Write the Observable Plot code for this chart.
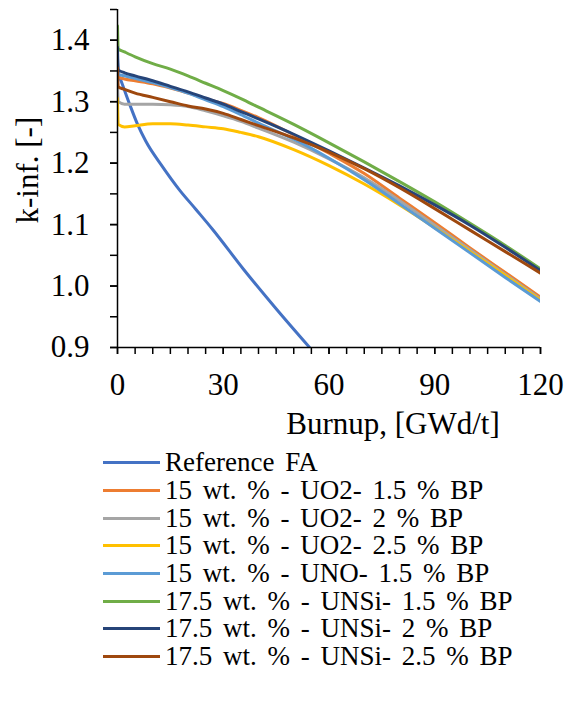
<!DOCTYPE html>
<html>
<head>
<meta charset="utf-8">
<script src="https://cdn.jsdelivr.net/npm/d3@7"></script>
<script src="https://cdn.jsdelivr.net/npm/@observablehq/plot@0.6"></script>
<style>
  html, body { margin: 0; padding: 0; background: #fff; }
  body { width: 566px; height: 711px; overflow: hidden; font-family: "Liberation Serif", "Times New Roman", serif; }
  #legend { margin-left: 103px; margin-top: 4px; }
  .row { display: flex; align-items: center; height: 27.7px; font-size: 27px; line-height: 27px; word-spacing: 4px; color: #000; white-space: nowrap; }
  .row span { display: inline-block; }
  .sw { width: 57px; height: 3px; margin-right: 5px; flex: none; }
</style>
</head>
<body>
<div id="chart"></div>
<div id="legend"></div>
<script>
// ---- data ----
const seriesNames = [
  "Reference FA",
  "15 wt. % - UO2- 1.5 % BP",
  "15 wt. % - UO2- 2 % BP",
  "15 wt. % - UO2- 2.5 % BP",
  "15 wt. % - UNO- 1.5 % BP",
  "17.5 wt. % - UNSi- 1.5 % BP",
  "17.5 wt. % - UNSi- 2 % BP",
  "17.5 wt. % - UNSi- 2.5 % BP"
];
const seriesColors = ["#4472C4", "#ED7D31", "#A5A5A5", "#FFC000", "#5B9BD5", "#70AD47", "#264478", "#9E480E"];

// Reference FA has its own burnup grid (it leaves the plot near 55 GWd/t)
const refBurnup = [0, 0.2, 1, 3.3, 5.7, 8, 12.8, 17.5, 22.2, 27, 35.8, 45.3, 54.8];
const refK      = [1.370, 1.346, 1.334, 1.298, 1.263, 1.236, 1.194, 1.157, 1.125, 1.092, 1.027, 0.961, 0.898];

// burnable-poison designs share one burnup grid
const burnup = [0, 0.2, 2, 5, 10, 15, 20, 25, 30, 35, 40, 50, 60, 70, 80, 90, 100, 110, 120];
const kUO2_15  = [1.352, 1.340, 1.337, 1.334, 1.329, 1.322, 1.314, 1.305, 1.297, 1.286, 1.274, 1.246, 1.216, 1.183, 1.143, 1.103, 1.062, 1.022, 0.982];
const kUO2_20  = [1.330, 1.300, 1.296, 1.296, 1.296, 1.295, 1.292, 1.285, 1.277, 1.268, 1.257, 1.234, 1.207, 1.176, 1.139, 1.099, 1.059, 1.019, 0.979];
const kUO2_25  = [1.305, 1.263, 1.259, 1.261, 1.264, 1.264, 1.262, 1.259, 1.256, 1.250, 1.243, 1.222, 1.196, 1.166, 1.132, 1.095, 1.056, 1.017, 0.977];
const kUNO_15  = [1.355, 1.345, 1.342, 1.338, 1.331, 1.323, 1.314, 1.303, 1.292, 1.279, 1.265, 1.239, 1.208, 1.173, 1.134, 1.094, 1.054, 1.014, 0.975];
const kUNSi_15 = [1.423, 1.386, 1.381, 1.373, 1.362, 1.353, 1.342, 1.330, 1.318, 1.305, 1.291, 1.263, 1.233, 1.202, 1.170, 1.137, 1.102, 1.066, 1.028];
const kUNSi_20 = [1.388, 1.352, 1.347, 1.342, 1.334, 1.325, 1.316, 1.306, 1.296, 1.284, 1.272, 1.247, 1.220, 1.192, 1.163, 1.132, 1.099, 1.063, 1.025];
const kUNSi_25 = [1.355, 1.324, 1.320, 1.314, 1.307, 1.300, 1.293, 1.288, 1.281, 1.271, 1.261, 1.241, 1.218, 1.191, 1.160, 1.126, 1.091, 1.056, 1.021];

const xTicks = [0, 30, 60, 90, 120];
const yTicks = [0.9, 1.0, 1.1, 1.2, 1.3, 1.4];
const xLabel = "Burnup, [GWd/t]";
const yLabel = "k-inf. [-]";

// ---- build table ----
const rows = [];
refBurnup.forEach((b, i) => rows.push({series: seriesNames[0], burnup: b, k: refK[i]}));
[kUO2_15, kUO2_20, kUO2_25, kUNO_15, kUNSi_15, kUNSi_20, kUNSi_25].forEach((arr, s) => {
  burnup.forEach((b, i) => rows.push({series: seriesNames[s + 1], burnup: b, k: arr[i]}));
});

const font = '"Liberation Serif", "Times New Roman", serif';
const minorX = d3.range(0, 120.001, 5);
const minorY = d3.range(0.9, 1.4501, 0.05).map(v => +v.toFixed(2));

const chart = Plot.plot({
  width: 566,
  height: 445,
  marginLeft: 117,
  marginRight: 26,
  marginTop: 9,
  marginBottom: 98,
  style: {fontFamily: font, fontSize: "31px", color: "#000", background: "#fff", overflow: "visible"},
  x: {domain: [0, 120], label: null},
  y: {domain: [0.9, 1.45], label: null},
  color: {domain: seriesNames, range: seriesColors},
  marks: [
    Plot.line(rows, {x: "burnup", y: "k", z: "series", stroke: "series", strokeWidth: 3, curve: "monotone-x", clip: true}),
    // y axis
    Plot.ruleX([0], {stroke: "#000", strokeWidth: 1.5}),
    Plot.axisY(minorY, {tickSize: 7, tickFormat: () => "", strokeWidth: 1.5}),
    Plot.axisY(yTicks, {tickSize: 7, tickPadding: 21, tickFormat: d3.format(".1f"), strokeWidth: 1.5, fontSize: 31, fontFamily: font}),
    // x axis
    Plot.ruleY([0.9], {stroke: "#000", strokeWidth: 1.5}),
    Plot.axisX(minorX, {tickSize: 7, tickFormat: () => "", strokeWidth: 1.5}),
    Plot.axisX(xTicks, {tickSize: 7, tickPadding: 18, tickFormat: d3.format("d"), strokeWidth: 1.5, fontSize: 31, fontFamily: font}),
    // axis titles
    Plot.text([xLabel], {frameAnchor: "bottom", dx: 64, dy: 86, lineAnchor: "bottom", fontSize: 31, fontFamily: font}),
    Plot.text([yLabel], {frameAnchor: "left", rotate: -90, dx: -89, dy: 45, lineAnchor: "middle", fontSize: 31, fontFamily: font})
  ]
});
document.getElementById("chart").appendChild(chart);

// legend (HTML, below the SVG)
const legend = d3.select("#legend");
seriesNames.forEach((name, i) => {
  const r = legend.append("div").attr("class", "row");
  r.append("div").attr("class", "sw").style("background", seriesColors[i]);
  r.append("span").text(name);
});
</script>
</body>
</html>
